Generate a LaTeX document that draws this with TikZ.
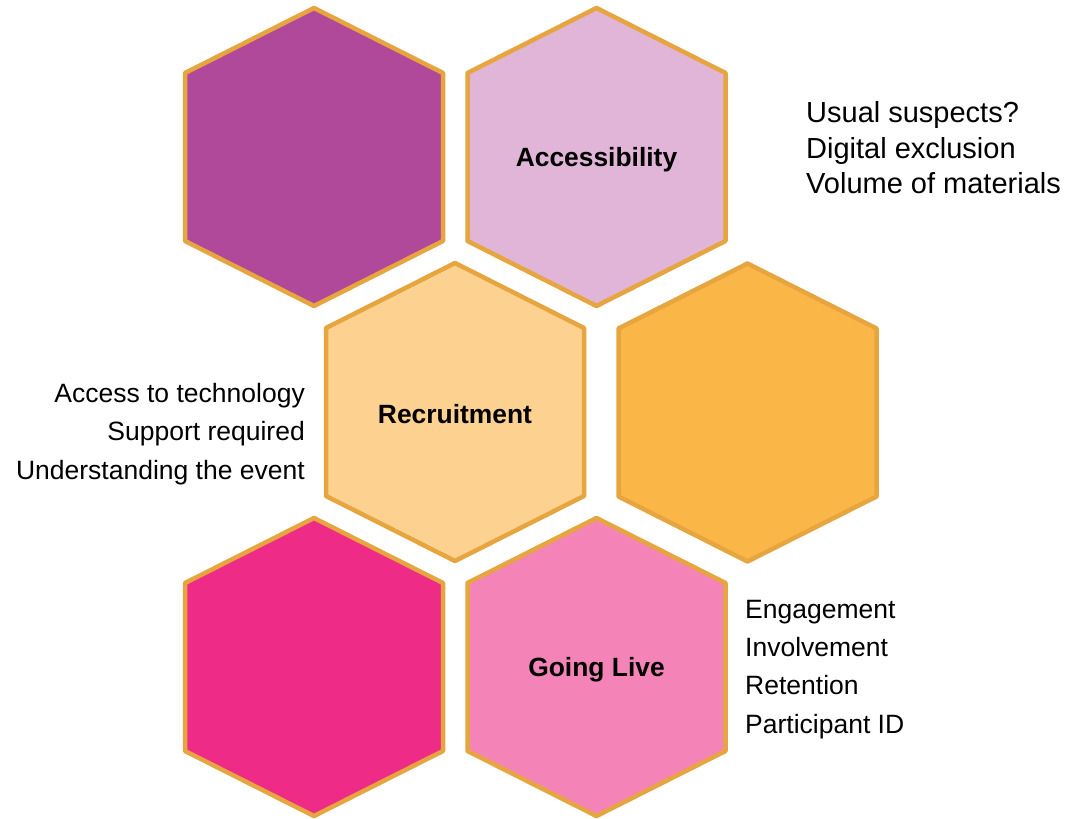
\documentclass[tikz,border=0pt]{standalone}
\usepackage{fontspec}
\setmainfont{Liberation Sans}

\definecolor{hexplum}{HTML}{B1499A}
\definecolor{hexlilac}{HTML}{E1B5D7}
\definecolor{hexpeach}{HTML}{FDD290}
\definecolor{hexamber}{HTML}{FAB646}
\definecolor{hexmagenta}{HTML}{EE2C87}
\definecolor{hexpink}{HTML}{F484B7}
\definecolor{hexline}{HTML}{E6A53F}

% pointy-top hexagon: centre x, centre y, fill colour
\newcommand{\hexcell}[3]{
	\draw[hexa,fill=#3] (#1,#2-149) -- (#1+129,#2-84) -- (#1+129,#2+84) -- (#1,#2+149) -- (#1-129,#2+84) -- (#1-129,#2-84) -- cycle;
}

\begin{document}
\begin{tikzpicture}[
					x=1pt,y=-1pt,
					hexa/.style={draw=hexline,line width=4.5pt,line join=round},
					title/.style={font=\fontsize{26.4}{30}\selectfont\bfseries},
					notes/.style={font=\fontsize{26.5}{38.2}\selectfont,inner sep=0pt}
					]

					\useasboundingbox (0,0) rectangle (1069,819);

					\hexcell{314}{157}{hexplum}
					\hexcell{596.5}{157}{hexlilac}
					\hexcell{455}{412}{hexpeach}
					\hexcell{747.5}{412.5}{hexamber}
					\hexcell{314}{667}{hexmagenta}
					\hexcell{596.5}{667}{hexpink}

					\node[title] (access) at (596.5,160) {Accessibility};
					\node[title] (recruit) at (455,414) {Recruitment};
					\node[title] (live) at (596.5,670) {Going Live};

					\node[notes,font=\fontsize{29}{35.5}\selectfont,align=left,anchor=west] (accessnotes) at (806,148) {Usual suspects?\\Digital exclusion\\Volume of materials};
					\node[notes,align=right,anchor=east] (recruitnotes) at (305,434) {Access to technology\\Support required\\Understanding the event};
					\node[notes,align=left,anchor=west] (livenotes) at (745,669.5) {Engagement\\Involvement\\Retention\\Participant ID};

				\end{tikzpicture}
\end{document}
